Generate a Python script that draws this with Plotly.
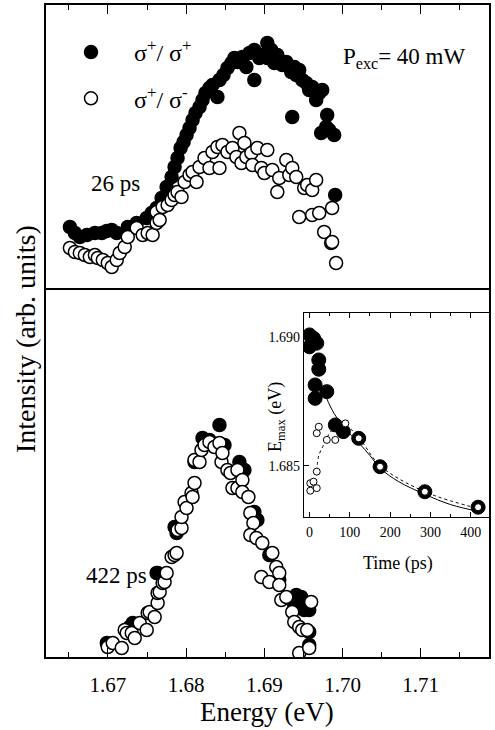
import plotly.graph_objects as go

# ---------------- data ----------------
# Top panel: 26 ps spectra (energy in eV, intensity in arb. units)
e26_pp = [1.66513, 1.66577, 1.66640, 1.66730, 1.66832, 1.66921, 1.66985, 1.67048, 1.67112, 1.67253,
          1.67367, 1.67495, 1.67559, 1.67622, 1.67686, 1.67750, 1.67814, 1.67852, 1.67890, 1.67929,
          1.67967, 1.68005, 1.68043, 1.68082, 1.68120, 1.68171, 1.68209, 1.68247, 1.68298, 1.68337,
          1.68400, 1.68426, 1.68477, 1.68528, 1.68579, 1.68617, 1.68656, 1.68719, 1.68770, 1.68809,
          1.68872, 1.68872, 1.68936, 1.68974, 1.69038, 1.69038, 1.69089, 1.69128, 1.69166, 1.69230,
          1.69281, 1.69344, 1.69357, 1.69383, 1.69408, 1.69446, 1.69485, 1.69536, 1.69574, 1.69612,
          1.69663, 1.69702, 1.69740, 1.69727, 1.69791, 1.69804, 1.69829, 1.69893, 1.69906]
i26_pp = [63, 57, 53, 55, 57, 57, 59, 60, 57, 63,
          67, 72, 77, 82, 92, 103, 113, 123, 132, 142,
          148, 155, 162, 170, 177, 183, 190, 197, 202, 205,
          193, 210, 215, 222, 227, 232, 228, 233, 223, 237,
          240, 210, 232, 235, 247, 232, 240, 227, 235, 225,
          228, 218, 173, 223, 215, 220, 210, 207, 200, 203,
          190, 197, 200, 157, 163, 175, 160, 155, 95]

e26_pm = [1.66513, 1.66577, 1.66640, 1.66704, 1.66768, 1.66832, 1.66870, 1.66934, 1.66997, 1.67048,
          1.67112, 1.67150, 1.67214, 1.67253, 1.67367, 1.67444, 1.67508, 1.67571, 1.67622, 1.67622,
          1.67661, 1.67699, 1.67763, 1.67814, 1.67852, 1.67890, 1.67941, 1.67980, 1.68043, 1.68082,
          1.68133, 1.68171, 1.68235, 1.68298, 1.68337, 1.68400, 1.68426, 1.68464, 1.68528, 1.68592,
          1.68643, 1.68681, 1.68707, 1.68745, 1.68770, 1.68834, 1.68847, 1.68911, 1.68962, 1.69000,
          1.69038, 1.69102, 1.69166, 1.69191, 1.69281, 1.69319, 1.69357, 1.69408, 1.69446, 1.69510,
          1.69548, 1.69612, 1.69663, 1.69612, 1.69702, 1.69765, 1.69855, 1.69867, 1.69867, 1.69918]
i26_pm = [42, 38, 37, 35, 33, 35, 32, 30, 27, 23,
          30, 37, 43, 53, 62, 55, 57, 55, 67, 78,
          70, 83, 85, 90, 95, 98, 93, 108, 115, 118,
          108, 123, 132, 122, 138, 143, 122, 145, 138, 142,
          133, 157, 127, 147, 133, 137, 125, 142, 122, 117,
          140, 120, 98, 112, 130, 115, 122, 113, 73, 102,
          105, 100, 110, 75, 77, 58, 47, 82, 48, 27]

# Bottom panel: 422 ps spectra
e422_pp = [1.66985, 1.67278, 1.67316, 1.67622, 1.67635, 1.67852, 1.67878, 1.68107, 1.68209, 1.68298,
           1.68426, 1.68490, 1.68681, 1.68745, 1.68872, 1.68911, 1.69064, 1.69191, 1.69383, 1.69408,
           1.69446, 1.69472, 1.69510, 1.69574, 1.69574, 1.69574]
i422_pp = [14, 30, 34, 84, 84, 130, 124, 195, 219, 217,
           232, 212, 195, 187, 145, 137, 102, 77, 52, 62,
           57, 60, 47, 47, 25, 12]

e422_pm = [1.66997, 1.67061, 1.67176, 1.67214, 1.67240, 1.67304, 1.67342, 1.67406, 1.67495, 1.67508,
           1.67533, 1.67597, 1.67635, 1.67635, 1.67661, 1.67699, 1.67724, 1.67750, 1.67814, 1.67852,
           1.67878, 1.67890, 1.67941, 1.67941, 1.67980, 1.68005, 1.68069, 1.68082, 1.68107, 1.68107,
           1.68171, 1.68196, 1.68235, 1.68298, 1.68362, 1.68426, 1.68452, 1.68464, 1.68528, 1.68567,
           1.68592, 1.68656, 1.68656, 1.68719, 1.68719, 1.68796, 1.68821, 1.68860, 1.68821, 1.68898,
           1.68974, 1.68962, 1.69064, 1.69102, 1.69153, 1.69191, 1.69191, 1.69217, 1.69281, 1.69357,
           1.69383, 1.69446, 1.69485, 1.69548, 1.69599, 1.69446, 1.69574]
i422_pm = [10, 14, 9, 27, 24, 24, 19, 34, 27, 44,
           45, 40, 54, 64, 65, 74, 75, 84, 100, 102,
           104, 127, 129, 140, 155, 149, 164, 160, 174, 197,
           195, 207, 212, 215, 210, 214, 195, 204, 187, 184,
           169, 169, 187, 177, 165, 160, 144, 134, 122, 119,
           114, 80, 75, 104, 90, 84, 72, 57, 60, 45,
           35, 30, 27, 27, 55, 4, 9]

# Inset: peak energy vs time
t_pp = [0, 10, 18, 0, 23, 23, 14, 14, 43, 64, 84, 122, 175, 286, 418]
emax_pp = [1.69008, 1.68995, 1.68976, 1.68962, 1.68911, 1.68875, 1.68814, 1.68762, 1.68788, 1.68659,
           1.68633, 1.68607, 1.68497, 1.68400, 1.68340]
t_pm = [2, 2, 10, 18, 18, 18, 23, 43, 64, 89, 122, 175, 286, 418]
emax_pm = [1.68404, 1.68433, 1.68439, 1.68414, 1.68478, 1.68627, 1.68652, 1.68601, 1.68601, 1.68665,
           1.68607, 1.68497, 1.68400, 1.68340]
t_fit_pp = [38, 55, 85, 122, 150, 176, 220, 286, 350, 430]
e_fit_pp = [1.6878, 1.6872, 1.6865, 1.6859, 1.6854, 1.6849, 1.6844, 1.6839, 1.6835, 1.6832]
t_fit_pm = [18, 23, 33, 45, 57, 85, 122, 176, 286, 430]
e_fit_pm = [1.6848, 1.6854, 1.68575, 1.68614, 1.6864, 1.6866, 1.6861, 1.6850, 1.6840, 1.6833]

xticks = [1.67, 1.68, 1.69, 1.70, 1.71]
xticktext = ["1.67", "1.68", "1.69", "1.70", "1.71"]
tticks = [0, 100, 200, 300, 400]
eticks = [1.685, 1.690]
eticktext = ["1.685", "1.690"]

# ---------------- figure ----------------
FONT = "Liberation Serif, Times New Roman, serif"
W, H = 495, 730
ML, MR, MT, MB = 46, 4, 5, 73
PW, PH = W - ML - MR, H - MT - MB


def px(x):
    return (x - ML) / PW


def py(y):
    return (H - MB - y) / PH


split = py(290)

fig = go.Figure()

filled = dict(symbol="circle", size=13, color="black", line=dict(color="black", width=1.5))
hollow = dict(symbol="circle", size=13, color="white", line=dict(color="black", width=1.5))

fig.add_trace(go.Scatter(x=e26_pp, y=i26_pp, mode="markers", marker=filled, xaxis="x2", yaxis="y2",
                         name="σ<sup>+</sup>/ σ<sup>+</sup>", legendgroup="a", showlegend=True))
fig.add_trace(go.Scatter(x=e26_pm, y=i26_pm, mode="markers", marker=hollow, xaxis="x2", yaxis="y2",
                         name="σ<sup>+</sup>/ σ<sup>-</sup>", legendgroup="b", showlegend=True))
fig.add_trace(go.Scatter(x=e422_pp, y=i422_pp, mode="markers", marker=filled, xaxis="x", yaxis="y",
                         showlegend=False))
fig.add_trace(go.Scatter(x=e422_pm, y=i422_pm, mode="markers", marker=hollow, xaxis="x", yaxis="y",
                         showlegend=False))

# inset
fig.add_trace(go.Scatter(x=t_fit_pm, y=e_fit_pm, mode="lines", line=dict(color="black", width=1, dash="dot", shape="spline"),
                         xaxis="x3", yaxis="y3", showlegend=False))
fig.add_trace(go.Scatter(x=t_fit_pp, y=e_fit_pp, mode="lines", line=dict(color="black", width=1, shape="spline"),
                         xaxis="x3", yaxis="y3", showlegend=False))
fig.add_trace(go.Scatter(x=t_pp, y=emax_pp, mode="markers",
                         marker=dict(symbol="circle", size=14, color="black", line=dict(color="black", width=1)),
                         xaxis="x3", yaxis="y3", showlegend=False))
fig.add_trace(go.Scatter(x=t_pm, y=emax_pm, mode="markers",
                         marker=dict(symbol="circle", size=7, color="white", line=dict(color="black", width=1)),
                         xaxis="x3", yaxis="y3", showlegend=False))

axis_common = dict(showgrid=False, zeroline=False, showline=True, linecolor="black", linewidth=1.5)

fig.update_layout(
    width=W, height=H,
    margin=dict(l=ML, r=MR, t=MT, b=MB, pad=0),
    paper_bgcolor="white", plot_bgcolor="white",
    font=dict(family=FONT, color="black"),
    xaxis=dict(**axis_common, mirror=True, domain=[0, 1], anchor="y", range=[1.66207, 1.71874],
               tickmode="array", tickvals=xticks, ticktext=xticktext, ticks="inside", ticklen=9,
               tickwidth=1.2, tickcolor="black", tickfont=dict(size=21, family=FONT),
               ticklabelstandoff=8,
               minor=dict(dtick=0.005, tick0=1.665, ticks="inside", ticklen=5, tickwidth=1.2, tickcolor="black")),
    xaxis2=dict(**axis_common, mirror=False, domain=[0, 1], anchor="y2", matches="x", side="top",
                tickmode="array", tickvals=xticks, ticks="inside", ticklen=9, tickwidth=1.2,
                tickcolor="black", showticklabels=False,
                minor=dict(dtick=0.005, tick0=1.665, ticks="inside", ticklen=5, tickwidth=1.2, tickcolor="black")),
    yaxis=dict(**axis_common, mirror=True, domain=[0, split], anchor="x", range=[0, 367],
               showticklabels=False, ticks=""),
    yaxis2=dict(**axis_common, mirror=True, domain=[split, 1], anchor="x2", range=[0, 285],
                showticklabels=False, ticks=""),
    xaxis3=dict(showgrid=False, zeroline=False, showline=True, linecolor="black", linewidth=1,
                mirror="ticks", domain=[px(305), 1], anchor="y3", range=[-14, 445],
                tickmode="array", tickvals=tticks, ticks="inside", ticklen=5, tickwidth=1, tickcolor="black",
                tickfont=dict(size=14, family=FONT), ticklabelstandoff=2,
                minor=dict(dtick=50, tick0=0, ticks="inside", ticklen=3, tickwidth=1, tickcolor="black")),
    yaxis3=dict(showgrid=False, zeroline=False, showline=True, linecolor="black", linewidth=1,
                mirror=True, domain=[py(517), py(313)], anchor="x3", range=[1.68302, 1.69093],
                tickmode="array", tickvals=eticks, ticktext=eticktext, ticks="inside", ticklen=5,
                tickwidth=1, tickcolor="black", tickfont=dict(size=14, family=FONT), ticklabelstandoff=0),
    legend=dict(x=px(48), y=py(30), xanchor="left", yanchor="top", bgcolor="rgba(0,0,0,0)",
                font=dict(size=24, family=FONT), itemsizing="trace", tracegroupgap=12,
                traceorder="grouped", itemwidth=76),
    showlegend=True,
)

ann = [
    dict(text="Energy (eV)", x=px(268), y=py(712), font=dict(size=27)),
    dict(text="Intensity (arb. units)", x=px(26), y=py(339), font=dict(size=28), textangle=-90),
    dict(text="26 ps", x=px(116), y=py(183), font=dict(size=23)),
    dict(text="422 ps", x=px(117), y=py(575), font=dict(size=23)),
    dict(text="P<sub>exc</sub>= 40 mW", x=px(342), y=py(58), xanchor="left", font=dict(size=23)),
    dict(text="Time (ps)", x=px(400), y=py(563), font=dict(size=18)),
    dict(text="E<sub>max</sub> (eV)", x=px(277), y=py(417), font=dict(size=18), textangle=-90),
]
for a in ann:
    a.setdefault("xanchor", "center")
    fig.add_annotation(xref="paper", yref="paper", showarrow=False, yanchor="middle",
                       font=dict(family=FONT, color="black", size=a["font"]["size"]),
                       **{k: v for k, v in a.items() if k != "font"})

fig.write_html("out.html", config={"displayModeBar": False},
               post_script="document.body.style.margin='0';document.body.style.padding='0';"
                           "document.documentElement.style.overflow='hidden';")
